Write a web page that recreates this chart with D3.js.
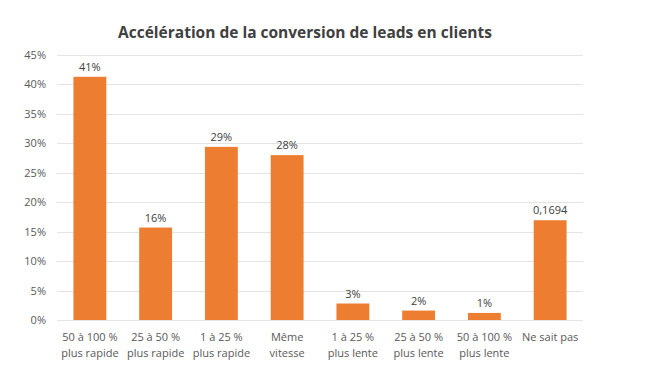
<!DOCTYPE html>
<html>
<head>
<meta charset="utf-8">
<script src="https://cdn.jsdelivr.net/npm/d3@7"></script>
<style>
  body { margin: 0; background: #fff; }
  svg { display: block; font-family: "Open Sans", sans-serif; }
</style>
</head>
<body>
<div id="content"></div>
<script>
// chart data
var categories = [
  ["50 à 100 %", "plus rapide"],
  ["25 à 50 %", "plus rapide"],
  ["1 à 25 %", "plus rapide"],
  ["Même", "vitesse"],
  ["1 à 25 %", "plus lente"],
  ["25 à 50 %", "plus lente"],
  ["50 à 100 %", "plus lente"],
  ["Ne sait pas"]
];
var values = [0.413, 0.157, 0.294, 0.280, 0.028, 0.016, 0.012, 0.1694];
var valueLabels = ["41%", "16%", "29%", "28%", "3%", "2%", "1%", "0,1694"];
var yTicks = [0, 0.05, 0.10, 0.15, 0.20, 0.25, 0.30, 0.35, 0.40, 0.45];
var title = "Accélération de la conversion de leads en clients";

var width = 646, height = 374;
var margin = {top: 55, right: 63, bottom: 54, left: 57};

var svg = d3.select("#content").append("svg")
    .attr("width", width)
    .attr("height", height);

var x_scale = d3.scaleBand()
    .domain(d3.range(categories.length))
    .range([margin.left, width - margin.right])
    .paddingInner(0.5)
    .paddingOuter(0.25);

var y_scale = d3.scaleLinear()
    .domain([0, 0.45])
    .range([height - margin.bottom, margin.top]);

// gridlines
svg.append("g")
  .selectAll("line")
  .data(yTicks)
  .enter()
  .append("line")
    .attr("x1", margin.left)
    .attr("x2", width - margin.right)
    .attr("y1", function(d) { return Math.round(y_scale(d)) + 0.5; })
    .attr("y2", function(d) { return Math.round(y_scale(d)) + 0.5; })
    .attr("stroke", "#e4e4e4")
    .attr("stroke-width", 1);

// y axis labels
var yAxis = svg.append("g")
    .attr("transform", "translate(" + (margin.left - 11) + ",0)")
    .call(d3.axisLeft(y_scale).tickValues(yTicks).tickSize(0).tickPadding(0)
      .tickFormat(function(d) { return Math.round(d * 100) + "%"; }));
yAxis.select(".domain").remove();
yAxis.selectAll("text")
    .attr("fill", "#595959")
    .style("font-size", "11px")
    .style("font-family", "Open Sans, sans-serif");

// bars
svg.selectAll("rect.bar")
  .data(values)
  .enter()
  .append("rect")
    .attr("class", "bar")
    .attr("x", function(d, i) { return x_scale(i); })
    .attr("width", x_scale.bandwidth())
    .attr("y", function(d) { return y_scale(d); })
    .attr("height", function(d) { return y_scale(0) - y_scale(d); })
    .attr("fill", "#ed7d31");

// value labels
svg.selectAll("text.val")
  .data(values)
  .enter()
  .append("text")
    .attr("class", "val")
    .attr("x", function(d, i) { return x_scale(i) + x_scale.bandwidth() / 2; })
    .attr("y", function(d) { return y_scale(d) - 6; })
    .attr("text-anchor", "middle")
    .attr("fill", "#404040")
    .style("font-size", "11px")
    .text(function(d, i) { return valueLabels[i]; });

// category labels
var cat = svg.selectAll("text.cat")
  .data(categories)
  .enter()
  .append("text")
    .attr("class", "cat")
    .attr("text-anchor", "middle")
    .attr("fill", "#595959")
    .style("font-size", "11px")
    .attr("transform", function(d, i) {
      return "translate(" + (x_scale(i) + x_scale.bandwidth() / 2) + "," + (y_scale(0) + 21) + ")";
    });
cat.selectAll("tspan")
  .data(function(d) { return d; })
  .enter()
  .append("tspan")
    .attr("x", 0)
    .attr("y", function(d, j) { return j * 16; })
    .text(function(d) { return d; });

// title
svg.append("text")
    .attr("x", 305)
    .attr("y", 38)
    .attr("text-anchor", "middle")
    .attr("fill", "#404040")
    .style("font-size", "15.5px")
    .style("font-weight", "bold")
    .text(title);
</script>
</body>
</html>
